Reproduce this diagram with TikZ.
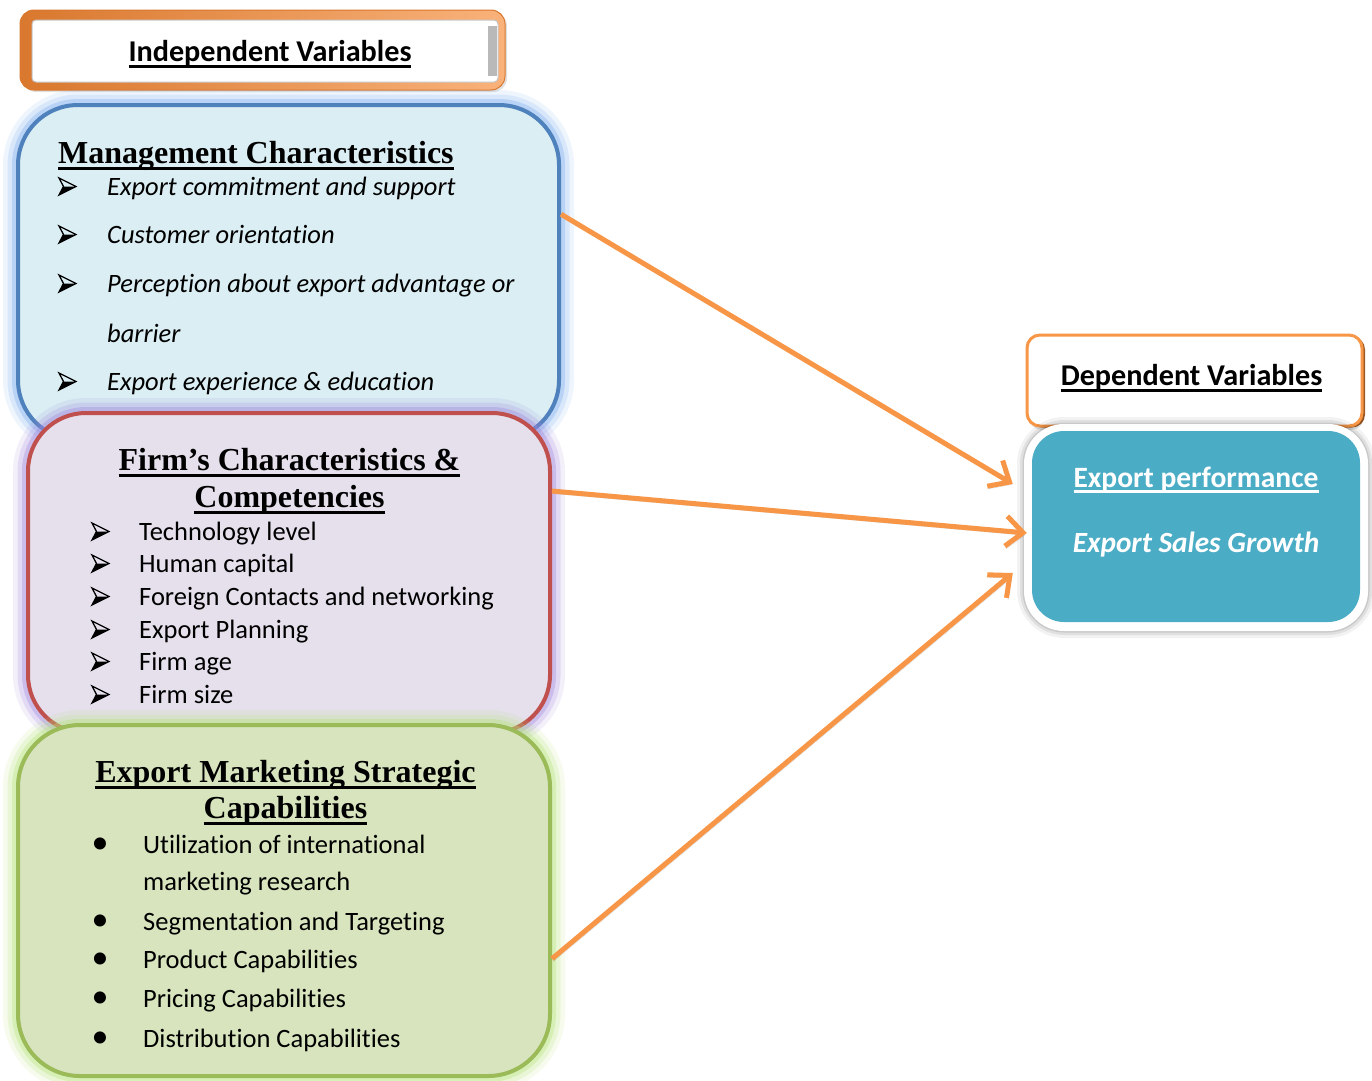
\documentclass[tikz,border=0pt]{standalone}
\usepackage{fontspec}
\setmainfont{Carlito}[Ligatures={NoCommon,NoContextual,NoRare}, Contextuals=NoAlternate]
\newfontfamily\tnr{Liberation Serif}
\usetikzlibrary{arrows.meta,calc}
\definecolor{arrowor}{HTML}{F79646}
\definecolor{orangedark}{HTML}{D9782E}
\definecolor{orangelight}{HTML}{F9B27A}
\definecolor{mgmtline}{HTML}{4F81BD}
\definecolor{mgmtfill}{HTML}{DAEEF3}
\definecolor{mgmtglow}{HTML}{7FB0F0}
\definecolor{firmline}{HTML}{C0504D}
\definecolor{firmfill}{HTML}{E5E0EC}
\definecolor{firmglow}{HTML}{9F86DD}
\definecolor{emsline}{HTML}{9BBB59}
\definecolor{emsfill}{HTML}{D7E4BD}
\definecolor{emsglow}{HTML}{B5E47A}
\definecolor{teal}{HTML}{4BACC6}
\newcommand\myul[3]{\leavevmode\setbox0\hbox{#3}\rlap{\rule[-#1]{\wd0}{#2}}\box0}
\tikzset{
  glow/.style={preaction={draw=#1, line width=30pt, draw opacity=0.12},
               preaction={draw=#1, line width=21pt, draw opacity=0.20},
               preaction={draw=#1, line width=12pt, draw opacity=0.35}},
  bigbox/.style={rectangle, line width=4pt, inner sep=0pt},
  body/.style={font=\fontsize{26.5}{30}\selectfont, inner sep=0pt, anchor=base west},
  bodyit/.style={font=\fontsize{26.5}{30}\selectfont\itshape, inner sep=0pt, anchor=base west},
  dotbul/.style={font=\fontsize{34}{36}\selectfont, inner sep=0pt, anchor=base},
  tnrhead/.style={font=\tnr\bfseries\fontsize{32}{35}\selectfont, inner sep=0pt},
  calhead/.style={font=\bfseries\fontsize{30.2}{33}\selectfont, inner sep=0pt, anchor=base},
  link/.style={draw=arrowor, line width=5pt, -{Straight Barb[length=17pt,width=30pt]},
     preaction={draw=black, draw opacity=0.18, transform canvas={shift={(1.5pt,-2.5pt)}}}},
  pics/arrowhd/.style={code={
     \fill[black] (17,-8.5) -- (4.5,-8.5) -- (0,0) -- cycle;
     \draw[black, line width=1.3pt, line join=miter] (17,-8.5) -- (0,-17) -- (4.5,-8.5) -- (0,0) -- cycle;
  }}
}
\begin{document}
\begin{tikzpicture}[x=1pt,y=-1pt]
\useasboundingbox (0,0) rectangle (1372,1080);
\fill[white] (0,0) rectangle (1372,1080);

% ---- Independent Variables header ----
\node[rectangle, rounded corners=14pt, minimum width=485pt, minimum height=80pt,
      left color=orangedark, right color=orangelight, draw=orangedark, line width=1pt,
      preaction={fill=black, fill opacity=0.12, transform canvas={shift={(2pt,-2pt)}}}]
      (indepframe) at (262.5,50) {};
\node[rectangle, rounded corners=4pt, minimum width=466pt, minimum height=62pt,
      fill=white, draw=gray!45, line width=1pt] (indepin) at (265,51) {};
\node[rectangle, minimum width=9pt, minimum height=50pt, fill=gray!55, inner sep=0pt]
      (indepbar) at (492.5,51) {};
\node[calhead] (indep) at (270,61) {\myul{6.5pt}{2.5pt}{Independent Variables}};

% ---- Management Characteristics ----
\node[bigbox, rounded corners=60pt, minimum width=541pt, minimum height=335pt,
      draw=mgmtline, fill=mgmtfill, glow=mgmtglow] (mgmt) at (288.5,272.5) {};
\node[tnrhead, anchor=base west] (mh) at (58,163) {\myul{6.5pt}{3pt}{Management Characteristics}};
\foreach \n/\y/\t in {1/195/Export commitment and support,
                      2/243/Customer orientation,
                      3/292/Perception about export advantage or,
                      4/342/barrier,
                      5/390/Export experience \& education}
  \node[bodyit] (mi\n) at (107,\y) {\t};
\foreach \y in {195,243,292,390}
  \pic at (59,\y) {arrowhd};

% ---- Firm's Characteristics ----
\node[bigbox, rounded corners=58pt, minimum width=522pt, minimum height=320pt,
      draw=firmline, fill=firmfill, glow=firmglow] (firm) at (289,573) {};
\node[tnrhead, anchor=base] (fh1) at (289.5,470) {\myul{6.5pt}{3pt}{Firm’s Characteristics \&}};
\node[tnrhead, anchor=base] (fh2) at (289.5,507) {\myul{6.5pt}{3pt}{Competencies}};
\foreach \n/\y/\t in {1/540/Technology level,
                      2/572/Human capital,
                      3/605/Foreign Contacts and networking,
                      4/638/Export Planning,
                      5/670/Firm age,
                      6/703/Firm size}
  {\node[body] (fi\n) at (139,\y) {\t};
   \pic at (92,\y) {arrowhd};}

% ---- Export Marketing Strategic Capabilities ----
\node[bigbox, rounded corners=62pt, minimum width=532pt, minimum height=351pt,
      draw=emsline, fill=emsfill, glow=emsglow] (emsc) at (284,900.5) {};
\node[tnrhead, anchor=base] (eh1) at (285.5,782) {\myul{6.5pt}{3pt}{Export Marketing Strategic}};
\node[tnrhead, anchor=base] (eh2) at (285.5,818) {\myul{6.5pt}{3pt}{Capabilities}};
\foreach \n/\y/\t in {1/853/Utilization of international,
                      2/890/marketing research,
                      3/930/Segmentation and Targeting,
                      4/968/Product Capabilities,
                      5/1007/Pricing Capabilities,
                      6/1047/Distribution Capabilities}
  \node[body] (ei\n) at (143,\y) {\t};
\foreach \n/\y in {1/853,3/930,4/968,5/1007,6/1047}
  \node[dotbul] (eb\n) at (100,\y) {•};

% ---- Dependent Variables header ----
\node[rectangle, rounded corners=13pt, minimum width=335pt, minimum height=91pt,
      fill=white, draw=arrowor, line width=3pt,
      preaction={fill=orangedark!75!black, transform canvas={shift={(3pt,-1.5pt)}}},
      preaction={fill=black, fill opacity=0.12, transform canvas={shift={(2pt,-4pt)}}}]
      (depframe) at (1194.5,380.5) {};
\node[calhead] (dep) at (1191.5,385) {\myul{6.5pt}{2.5pt}{Dependent Variables}};

% ---- Export performance box ----
\node[rectangle, rounded corners=40pt, minimum width=344pt, minimum height=207pt,
      fill=white, inner sep=0pt,
      preaction={draw=black, draw opacity=0.05, line width=14pt},
      preaction={draw=black, draw opacity=0.07, line width=8pt},
      preaction={draw=black, draw opacity=0.10, line width=3pt}]
      (perfframe) at (1196,527.5) {};
\node[rectangle, rounded corners=32pt, minimum width=328pt, minimum height=191pt,
      fill=teal, inner sep=0pt] (perf) at (1196,526.5) {};
\node[calhead, text=white, font=\bfseries\fontsize{29.5}{32}\selectfont] (perf1) at (1196,487) {\myul{5.5pt}{2.5pt}{Export performance}};
\node[calhead, text=white, font=\bfseries\itshape\fontsize{29.3}{32}\selectfont] (perf2) at (1196,552) {Export Sales Growth};

% ---- connectors ----
\coordinate (s1) at ($(mgmt.north east)!0.328!(mgmt.south east)$);
\coordinate (s2) at ($(firm.north east)!0.247!(firm.south east)$);
\coordinate (s3) at ($(emsc.north east)!0.664!(emsc.south east)$);
\coordinate (e1) at ($(perfframe.west)+(-11,-43.5)$);
\coordinate (e2) at ($(perfframe.west)+(3,5.5)$);
\coordinate (e3) at ($(perfframe.west)+(-11,45.5)$);
\draw[link] (s1) -- (e1);
\draw[link] (s2) -- (e2);
\draw[link] (s3) -- (e3);
\end{tikzpicture}
\end{document}
